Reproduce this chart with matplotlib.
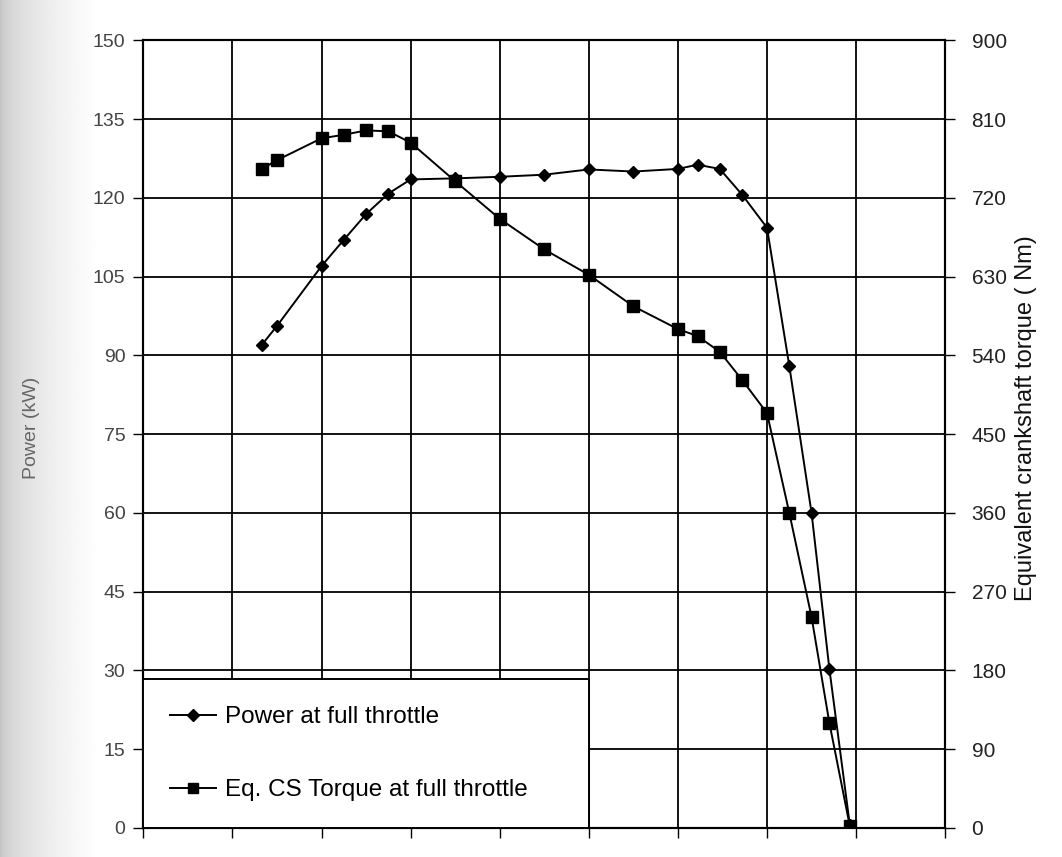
import matplotlib
matplotlib.use('Agg')
import matplotlib.pyplot as plt
import numpy as np

plt.rcParams['font.family'] = ['Liberation Sans', 'DejaVu Sans']

# engine speed in grid units (no labels shown on the original x axis)
speed = [1.33, 1.5, 2.0, 2.25, 2.5, 2.75, 3.0, 3.5, 4.0, 4.5, 5.0, 5.5,
         6.0, 6.22, 6.47, 6.72, 7.0, 7.25, 7.5, 7.7, 7.93]
power_kw = [92.0, 95.6, 107.0, 112.0, 116.9, 120.8, 123.5, 123.7, 124.0, 124.4,
            125.4, 125.0, 125.5, 126.3, 125.5, 120.6, 114.3, 88.0, 60.0, 30.3, 0.5]
torque_nm = [753, 763, 788, 792, 797, 796, 783, 739, 696, 661, 632, 596,
             570, 562, 544, 512, 474, 360, 241, 120, 2]

power_ticks = list(range(0, 151, 15))
torque_ticks = list(range(0, 901, 90))

fig = plt.figure(figsize=(10.62, 8.57), dpi=100)

# scanned-page shading on the left edge
bg = fig.add_axes([0, 0, 0.11, 1], zorder=-5)
t = np.linspace(0, 1, 200)
grad = np.clip(0.76 + 0.24 * np.sqrt(t / 0.85), 0, 1)
bg.imshow(grad[np.newaxis, :], cmap='gray', vmin=0, vmax=1, aspect='auto',
          extent=[0, 1, 0, 1], interpolation='bilinear')
bg.axis('off')

ax = fig.add_axes([0.135, 0.034, 0.755, 0.919])
ax2 = ax.twinx()

ln1, = ax.plot(speed, power_kw, color='black', lw=1.4, marker='D', ms=6.5,
               label='Power at full throttle')
ln2, = ax2.plot(speed, torque_nm, color='black', lw=1.4, marker='s', ms=8.5,
                label='Eq. CS Torque at full throttle')

ax.set_xlim(0, 9)
ax.set_xticks(range(0, 10))
ax.set_xticklabels([])
ax.set_ylim(0, 150)
ax.set_yticks(power_ticks)
ax2.set_ylim(0, 900)
ax2.set_yticks(torque_ticks)

ax.grid(True, color='black', lw=1.3)
for a in (ax, ax2):
    for s in a.spines.values():
        s.set_color('black')
        s.set_linewidth(1.5)
    a.tick_params(direction='out', length=7, width=1, colors='black')
ax.tick_params(axis='y', labelcolor='#444444', labelsize=14, pad=6)
ax2.tick_params(axis='y', labelcolor='#222222', labelsize=15, pad=12)

fig.text(32 / 1062, 1 - 428 / 857, 'Power (kW)', rotation=90, fontsize=14,
         color='#666666', ha='center', va='center')
fig.text(1026 / 1062, 1 - 418 / 857, 'Equivalent crankshaft torque ( Nm)',
         rotation=90, fontsize=17, color='#111111', ha='center', va='center')

leg = ax2.legend(handles=[ln1, ln2], loc='lower left',
                 bbox_to_anchor=(0, 0, 5 / 9, 0.19), mode='expand',
                 borderaxespad=0, fancybox=False, framealpha=1,
                 edgecolor='black', fontsize=17.5, labelspacing=2.1,
                 borderpad=1.1, handlelength=1.9, handletextpad=0.35,
                 markerscale=0.9)
leg.get_frame().set_linewidth(1.4)

fig.savefig('out.png', dpi=100)
